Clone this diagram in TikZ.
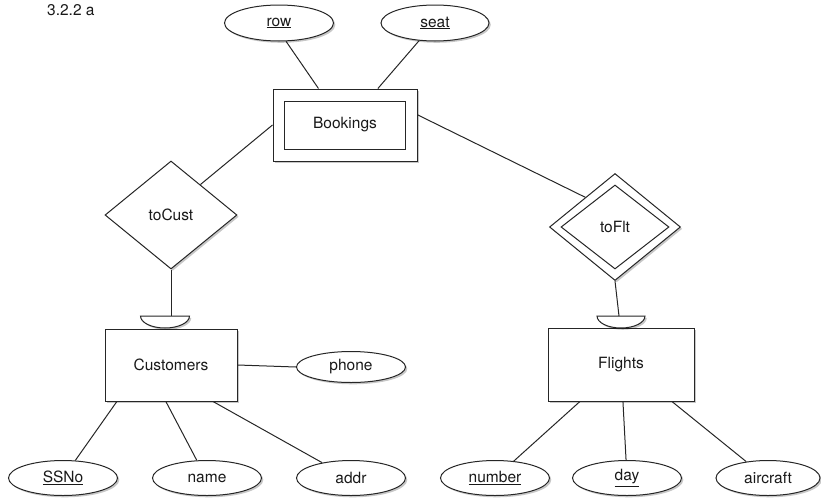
\documentclass[tikz,border=0pt]{standalone}
\usepackage{fontspec}
\setmainfont{TeX Gyre Heros}
\usetikzlibrary{shapes.geometric,shadows}
\begin{document}
\begin{tikzpicture}[x=1pt,y=-1pt,
  every node/.style={font=\fontsize{15.5}{18}\selectfont, inner sep=0pt, text=black!90},
  sh/.style={drop shadow={shadow xshift=1.8pt,shadow yshift=-1.8pt,opacity=0.22,fill=black}},
  bd/.style={draw=black!85, line width=1pt, fill=white},
  attr/.style={bd, sh, ellipse, minimum width=109pt, minimum height=36pt},
  ent/.style={bd, sh, rectangle, minimum width=132pt, minimum height=72pt},
  rel/.style={bd, sh, diamond, minimum width=132pt, minimum height=108pt},
  link/.style={draw=black!85, line width=1pt}]
\useasboundingbox (0,0) rectangle (821,498);

\node[anchor=base west] (title) at (47,15) {3.2.2 a};

\node[attr] (row) at (279,23) {\underline{row}};
\node[attr, minimum width=108pt] (seat) at (435,23) {\underline{seat}};

\node[bd, sh, minimum width=144pt, minimum height=72pt] (Bookings) at (345,125) {};
\node[bd, minimum width=121pt, minimum height=48pt] (BookingsIn) at (345,125) {Bookings};

\node[rel] (toCust) at (171,215) {toCust};
\node[rel, minimum width=131pt, minimum height=107pt] (toFlt) at (615,227) {};
\node[bd, diamond, minimum width=108pt, minimum height=84pt] (toFltIn) at (615,227) {toFlt};

\node[ent] (Customers) at (171,365) {Customers};
\node[ent, minimum width=146pt, minimum height=73pt] (Flights) at (621,364.5) {Flights};
\node[attr, minimum height=31pt] (phone) at (351,367) {phone};

\node[attr, minimum height=35pt] (SSNo) at (63,478) {\underline{SSNo}};
\node[attr, minimum height=35pt] (name) at (207,478) {name};
\node[attr, minimum height=35pt] (addr) at (351,478) {addr};
\node[attr, minimum height=35pt] (number) at (495,478) {\underline{number}};
\node[attr, minimum height=35pt] (day) at (627,478) {\underline{day}};
\node[attr, minimum height=35pt, minimum width=104pt] (aircraft) at (768,478) {aircraft};

\coordinate (cArcTop) at (171,316);
\coordinate (fArcTop) at (619,316);
\draw[bd, sh] (140.5,316) -- (189.5,316) arc[start angle=0, end angle=180, x radius=24.5, y radius=12] -- cycle;
\draw[bd, sh] (597,316) -- (645,316) arc[start angle=0, end angle=180, x radius=24, y radius=12] -- cycle;

\draw[link] (row.-69) -- (Bookings.126);
\draw[link] (seat.-132) -- (Bookings.48);
\draw[link] (Bookings.west) -- (toCust.46);
\draw[link] (Bookings.8) -- (toFlt.135);
\draw[link] (toCust.south) -- (cArcTop);
\draw[link] (toFlt.south) -- (fArcTop);
\draw[link] (Customers.east) -- (phone.west);
\draw[link] (SSNo.55) -- (Customers.-146);
\draw[link] (name.120) -- (Customers.-98);
\draw[link] (addr.152) -- (Customers.-41);
\draw[link] (number.42) -- (Flights.-138);
\draw[link] (day.93) -- (Flights.-87);
\draw[link] (aircraft.143) -- (Flights.-36);
\end{tikzpicture}
\end{document}
